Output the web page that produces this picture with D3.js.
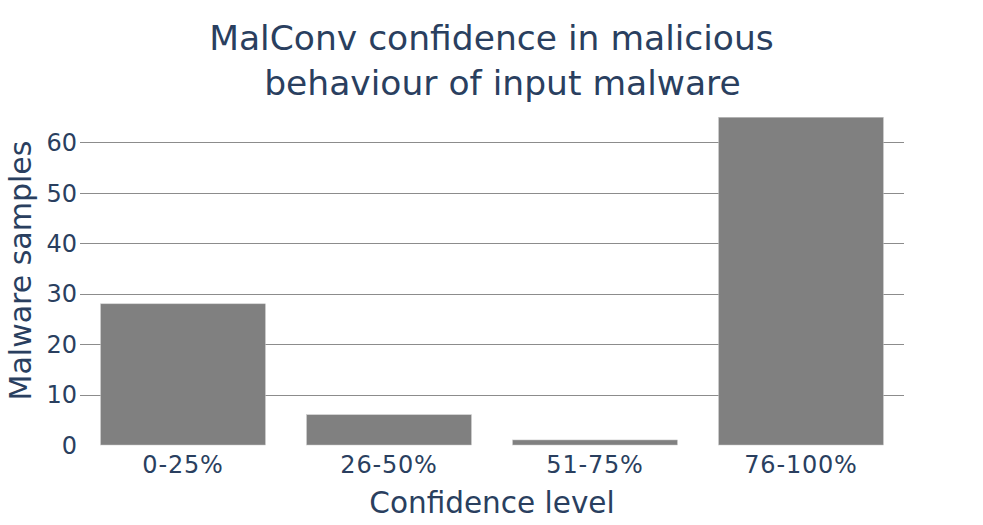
<!DOCTYPE html>
<html><head><meta charset="utf-8">
<script src="https://cdn.jsdelivr.net/npm/d3@7"></script>
<style>body{margin:0;background:#fff}svg{display:block}text{font-family:"DejaVu Sans",Verdana,sans-serif;fill:#2a3f5f;white-space:pre}</style>
</head><body>
<script>
const categories = ["0-25%", "26-50%", "51-75%", "76-100%"];
const values = [28, 6, 1, 65];
const yTicks = [0, 10, 20, 30, 40, 50, 60];
const titleLines = ["MalConv confidence in malicious ", " behaviour of input malware"];
const xTitle = "Confidence level";
const yTitle = "Malware samples";

const W = 983, H = 525;
const m = {l: 80, r: 79, t: 100, b: 80};
const svg = d3.select("body").append("svg").attr("width", W).attr("height", H);

const x = d3.scaleBand().domain(categories).range([m.l, W - m.r]).paddingInner(0.2).paddingOuter(0.1);
const y = d3.scaleLinear().domain([0, 65 * 1.0526]).range([H - m.b, m.t]);

svg.append("g").selectAll("line").data(yTicks.filter(d => d > 0)).join("line")
  .attr("x1", m.l).attr("x2", W - m.r)
  .attr("y1", d => Math.round(y(d)) + 0.5).attr("y2", d => Math.round(y(d)) + 0.5)
  .attr("stroke", "#8c8c8c").attr("stroke-width", 1);

svg.append("g").selectAll("rect").data(values).join("rect")
  .attr("x", (d, i) => x(categories[i]))
  .attr("width", x.bandwidth())
  .attr("y", d => y(d))
  .attr("height", d => y(0) - y(d))
  .attr("fill", "#808080").attr("stroke", "#c8c8c8").attr("stroke-width", 0.5);

svg.append("g").selectAll("text").data(yTicks).join("text")
  .attr("x", m.l - 3).attr("y", d => y(d)).attr("dy", "0.36em")
  .attr("text-anchor", "end").attr("font-size", 24).text(d => d);

svg.append("g").selectAll("text").data(categories).join("text")
  .attr("x", d => x(d) + x.bandwidth() / 2).attr("y", H - m.b + 28)
  .attr("text-anchor", "middle").attr("font-size", 24).attr("letter-spacing", 0.8).text(d => d);

svg.append("text").attr("x", (m.l + W - m.r) / 2).attr("y", 513)
  .attr("text-anchor", "middle").attr("font-size", 29.5).text(xTitle);
svg.append("text").attr("transform", `translate(31,${(m.t + H - m.b) / 2 - 2}) rotate(-90)`)
  .attr("text-anchor", "middle").attr("font-size", 30).text(yTitle);

svg.append("g").selectAll("text").data(titleLines).join("text")
  .attr("x", 497).attr("y", (d, i) => 50 + i * 45)
  .attr("text-anchor", "middle").attr("font-size", 34.5).text(d => d);
</script>
</body></html>
